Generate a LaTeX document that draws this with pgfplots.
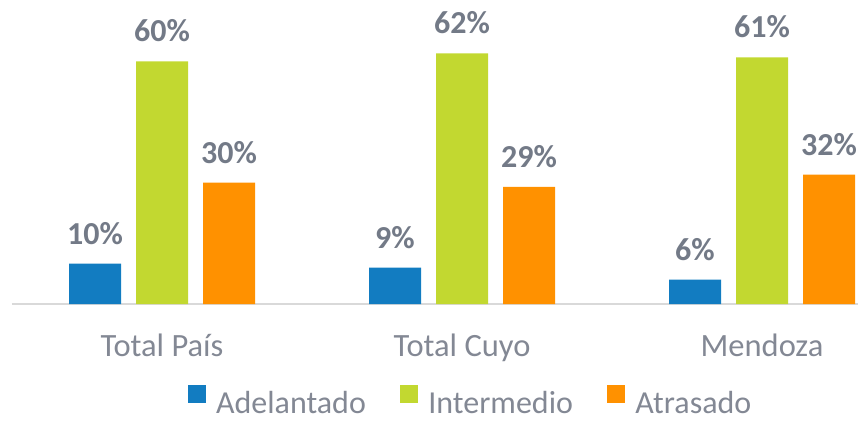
\documentclass[border=0pt]{standalone}
\usepackage{pgfplots}
\pgfplotsset{compat=1.18}
\usepackage{fontspec}
\setmainfont{Carlito}
\definecolor{cblue}{HTML}{127CC1}
\definecolor{cgreen}{HTML}{C2D830}
\definecolor{corange}{HTML}{FF9100}
\definecolor{lblgray}{HTML}{737A87}
\definecolor{txtgray}{HTML}{838894}
\definecolor{axgray}{HTML}{D9D9D9}
\begin{document}
\begin{tikzpicture}
\begin{axis}[
  at={(0pt,0pt)}, anchor=south west,
  scale only axis,
  width=846pt, height=304pt,
  xmin=-0.5, xmax=2.32,
  ymin=0, ymax=75.2,
  clip=false,
  ybar=15pt, bar width=52pt,
  axis x line*=bottom, axis y line=none,
  x axis line style={-, draw=axgray, line width=1.5pt},
  xtick={0,1,2},
  xticklabels={Total País, Total Cuyo, Mendoza},
  major tick length=0pt,
  xticklabel style={anchor=base, yshift=-52pt, font=\fontsize{32.5}{38}\selectfont, text=txtgray},
  /pgf/number format/assume math mode=true,
  nodes near coords={\pgfmathprintnumber{\pgfplotspointmeta}\%},
  every node near coord/.append style={anchor=base, yshift=19.5pt, font=\fontsize{32}{38}\selectfont\bfseries, text=lblgray},
  legend columns=-1,
  legend style={at={(0.541,-0.313)}, anchor=center, draw=none, fill=none,
    font=\fontsize{32}{38}\selectfont, text=txtgray,
    /tikz/every odd column/.append style={column sep=10pt},
    /tikz/every even column/.append style={column sep=34.5pt},
    nodes={inner sep=0pt, text depth=0pt}},
  legend image code/.code={\fill[#1] (0pt,-1pt) rectangle (18pt,17pt);},
]
\addplot[fill=cblue, draw=none] coordinates {(0,10) (1,9) (2,6)};
\addplot[fill=cgreen, draw=none] coordinates {(0,60) (1,62) (2,61)};
\addplot[fill=corange, draw=none] coordinates {(0,30) (1,29) (2,32)};
\legend{Adelantado, Intermedio, Atrasado}
\end{axis}
\pgfresetboundingbox
\path[use as bounding box] (-12pt,-116pt) rectangle (846pt,304pt);
\end{tikzpicture}
\end{document}
